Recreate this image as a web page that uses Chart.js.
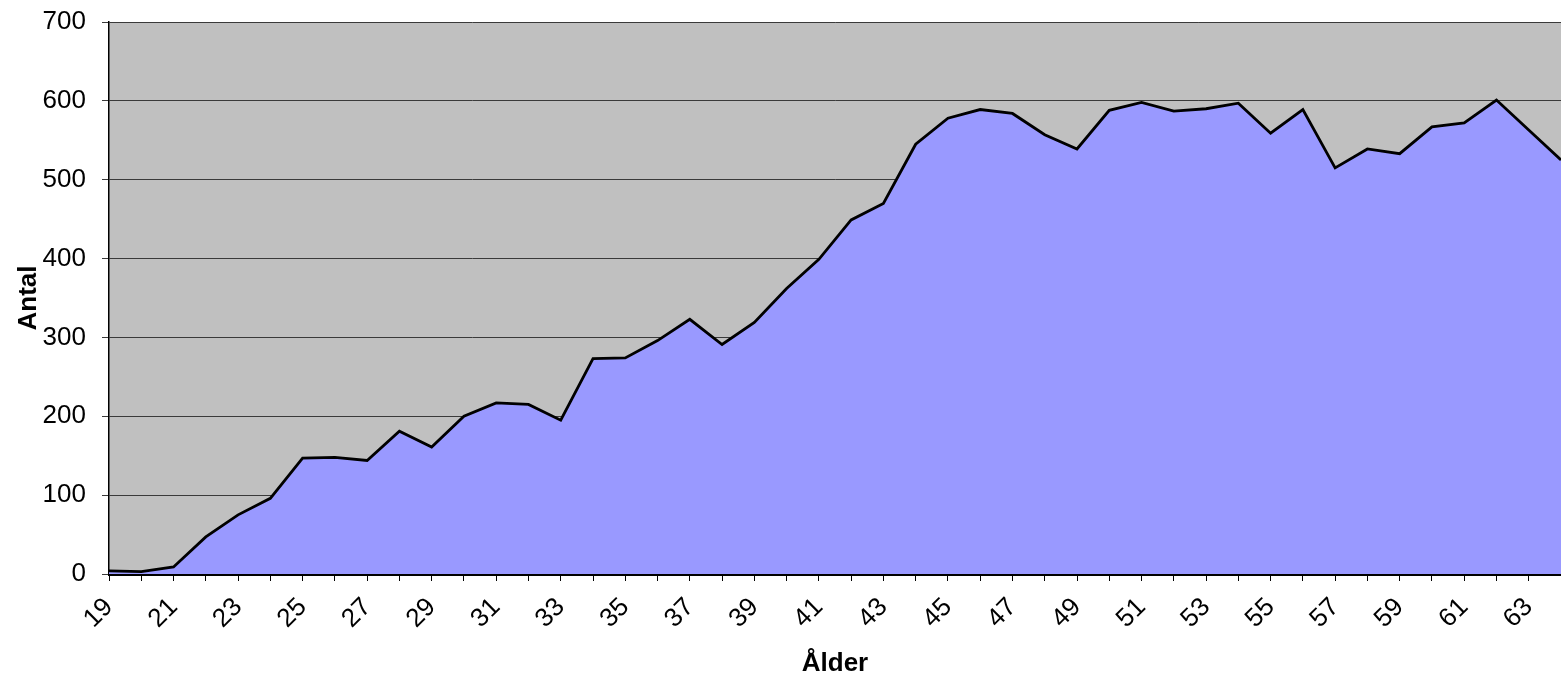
<!DOCTYPE html>
<html>
<head>
<meta charset="utf-8">
<script src="https://cdn.jsdelivr.net/npm/chart.js@4.4.0/dist/chart.umd.min.js"></script>
<style>
  html, body { margin: 0; padding: 0; background: #fff; }
  #wrap { width: 1561px; height: 679px; }
</style>
</head>
<body>
<div id="wrap"><canvas id="grafico"></canvas></div>
<script>
// Ålder 19..64
const alder = [];
for (let a = 19; a <= 64; a++) alder.push(String(a));

// Antal per ålder
const antal = [
  4, 3, 9, 47, 75, 96, 147, 148, 144, 181,
  161, 200, 217, 215, 195, 273, 274, 296, 323, 291,
  319, 362, 399, 449, 470, 545, 578, 589, 584, 557,
  539, 588, 598, 587, 590, 597, 559, 589, 515, 539,
  533, 567, 572, 601, 563, 525
];

const yTicks = [0, 100, 200, 300, 400, 500, 600, 700];

// grå bakgrund i plotytan
const plotBakgrund = {
  id: 'plotBakgrund',
  beforeDraw(chart) {
    const { ctx, chartArea } = chart;
    ctx.save();
    ctx.fillStyle = '#C0C0C0';
    ctx.fillRect(chartArea.left, chartArea.top, chartArea.right - chartArea.left, chartArea.bottom - chartArea.top);
    ctx.restore();
  }
};

const font = { family: 'Liberation Sans, Arial, sans-serif', size: 26 };

new Chart(document.getElementById('grafico'), {
  type: 'line',
  data: {
    labels: alder,
    datasets: [{
      data: antal,
      fill: 'origin',
      backgroundColor: '#9999FF',
      borderColor: '#000',
      borderWidth: 2.8,
      pointRadius: 0,
      tension: 0
    }]
  },
  options: {
    responsive: true,
    maintainAspectRatio: false,
    animation: false,
    layout: { padding: { top: 22, right: 0, left: 0, bottom: 0 } },
    plugins: {
      legend: { display: false },
      tooltip: { enabled: false }
    },
    scales: {
      x: {
        offset: false,
        grid: { drawOnChartArea: false, drawTicks: true, tickLength: 7, color: '#000' },
        border: { color: '#000', width: 3 },
        ticks: {
          autoSkip: false,
          maxRotation: 45,
          minRotation: 45,
          font: font,
          color: '#000',
          padding: 11,
          callback: function(val, i) {
            return i % 2 === 0 ? this.getLabelForValue(val) : '';
          }
        },
        title: { display: true, text: 'Ålder', font: { ...font, weight: 'bold' }, color: '#000', padding: { top: 0, bottom: 0 } },
        afterFit: s => { s.height = 105; s.paddingLeft = 0; s.paddingRight = 0; }
      },
      y: {
        min: 0,
        max: 700,
        afterBuildTicks: s => { s.ticks = yTicks.map(v => ({ value: v })); },
        grid: { color: '#3a3a3a', lineWidth: 1, tickLength: 7 },
        border: { color: '#000', width: 1.5 },
        ticks: { font: font, color: '#000', padding: 16 },
        title: { display: true, text: 'Antal', font: { ...font, weight: 'bold' }, color: '#000', padding: { top: 13 } },
        afterFit: s => { s.width = 109; s.paddingTop = 0; s.paddingBottom = 0; }
      }
    }
  },
  plugins: [plotBakgrund]
});
</script>
</body>
</html>
